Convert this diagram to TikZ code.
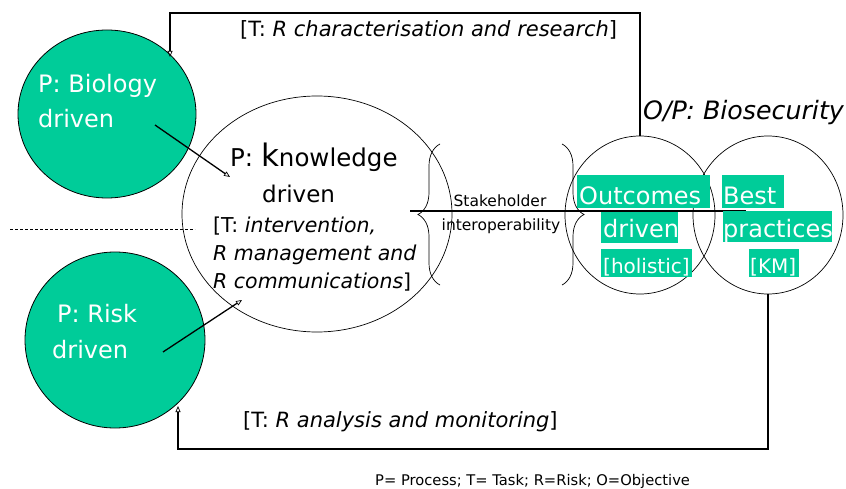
\documentclass[tikz,border=0pt]{standalone}
\usepackage{fontspec}
\setmainfont{DejaVu Sans}
\usetikzlibrary{arrows.meta,decorations.pathreplacing,shapes.geometric}
\definecolor{gr}{HTML}{00CC99}
\begin{document}
\begin{tikzpicture}[x=1pt,y=-1pt,
  gell/.style={ellipse, draw=black, line width=0.8pt, fill=gr, inner sep=0pt},
  wel/.style={ellipse, draw=black, line width=0.7pt, inner sep=0pt},
  loopline/.style={line width=1.2pt},
  oarrow/.style={-{Triangle[open,length=6pt,width=5pt,line width=0.7pt]}},
  wtxt/.style={text=white, anchor=base west, inner sep=0pt, font=\fontsize{24}{28}\selectfont},
  btxt/.style={anchor=base west, inner sep=0pt},
  gbox/.style={fill=gr, inner sep=0pt, anchor=north west},
  bracestyle/.style={decorate, decoration={brace, amplitude=22pt}, line width=0.7pt},
]
\useasboundingbox (0,0) rectangle (846,489);

% main shapes
\node[gell, minimum width=178pt, minimum height=168pt] (bio) at (107,114) {};
\node[gell, minimum width=180pt, minimum height=176pt] (risk) at (115,340) {};
\node[wel, minimum width=270pt, minimum height=236pt] (know) at (317,214) {};
\node[wel, minimum width=150pt, minimum height=158pt] (out) at (640,215) {};
\node[wel, minimum width=150pt, minimum height=158pt] (best) at (768,215) {};

% dashed line
\coordinate (d1) at (10,229);
\coordinate (d2) at (195,229);
\draw[dashed, line width=0.8pt, dash pattern=on 3pt off 2pt] (d1) -- (d2);

% horizontal line through stakeholder region
\coordinate (hl) at (410,211);
\coordinate (hr) at (746,211);
\draw[line width=1.1pt] (hl) -- (hr);

% braces
\coordinate (lb1) at (440,285);
\coordinate (lb2) at (440,144);
\draw[bracestyle] (lb1) -- (lb2);
\coordinate (rb1) at (562,144);
\coordinate (rb2) at (562,285);
\draw[bracestyle] (rb1) -- (rb2);

% loops
\coordinate (bioTop) at (170,57);
\coordinate (tcorner) at (170,13);
\draw[loopline, oarrow] (out.north) |- (tcorner) -- (bioTop);
\coordinate (riskBot) at (178,406);
\coordinate (bcorner) at (178,449);
\draw[loopline, oarrow] (best.south) |- (bcorner) -- (riskBot);

% inner arrows
\coordinate (a1s) at (155,125);
\coordinate (a1e) at (230,177);
\draw[line width=1.3pt, oarrow] (a1s) -- (a1e);
\coordinate (a2s) at (163,352);
\coordinate (a2e) at (242,300);
\draw[line width=1.3pt, oarrow] (a2s) -- (a2e);

% green boxes
\node[gbox, minimum width=133pt, minimum height=33pt] (b1) at (577,175) {};
\node[gbox, minimum width=77pt, minimum height=31pt] (b2) at (601,212) {};
\node[gbox, minimum width=91pt, minimum height=28pt] (b3) at (601,249) {};
\node[gbox, minimum width=62pt, minimum height=33pt] (b4) at (722,175) {};
\node[gbox, minimum width=109pt, minimum height=31pt] (b5) at (723,211) {};
\node[gbox, minimum width=50pt, minimum height=28pt] (b6) at (749,249) {};

\node[wtxt] (t1) at (579,204.5) {Outcomes};
\node[wtxt] (t2) at (603,237) {driven};
\node[wtxt, font=\fontsize{20}{24}\selectfont] (t3) at (603,273.5) {[holistic]};
\node[wtxt] (t4) at (723,204.5) {Best};
\node[wtxt] (t5) at (723,237) {practices};
\node[wtxt, font=\fontsize{20}{24}\selectfont] (t6) at (750,273.5) {[KM]};

% ellipse texts
\node[wtxt] (biot1) at (38,93) {P: Biology};
\node[wtxt] (biot2) at (38,128) {driven};
\node[wtxt] (riskt1) at (57,322) {P: Risk};
\node[wtxt] (riskt2) at (52,358) {driven};

\node[btxt, font=\fontsize{24.5}{28}\selectfont] (kt1) at (230,167) {P: {\fontsize{31}{34}\selectfont k}nowledge};
\node[btxt, font=\fontsize{23}{27}\selectfont] (kt2) at (262,203) {driven};
\node[btxt, font=\fontsize{20.5}{24}\selectfont] (kt3) at (213,233) {[T: \textit{intervention,}};
\node[btxt, font=\fontsize{20.5}{24}\selectfont] (kt4) at (213,260) {\textit{R management and}};
\node[btxt, font=\fontsize{20.5}{24}\selectfont] (kt5) at (213,288) {\textit{R communications}]};

% stakeholder
\node[anchor=base, inner sep=0pt, font=\fontsize{15.5}{18}\selectfont] (st1) at (500,207) {Stakeholder};
\node[anchor=base, inner sep=0pt, font=\fontsize{15.5}{18}\selectfont] (st2) at (501,230) {interoperability};

% labels
\node[btxt, font=\fontsize{21}{24}\selectfont] (tlab) at (240,37) {[T: \textit{R characterisation and research}]};
\node[btxt, font=\fontsize{21}{24}\selectfont] (blab) at (243,427) {[T: \textit{R analysis and monitoring}]};
\node[btxt, font=\fontsize{25.3}{28}\selectfont\itshape] (obj) at (643,120) {O/P: Biosecurity};
\node[btxt, font=\fontsize{14.7}{16}\selectfont] (foot) at (375,485) {P= Process; T= Task; R=Risk; O=Objective};
\end{tikzpicture}
\end{document}
